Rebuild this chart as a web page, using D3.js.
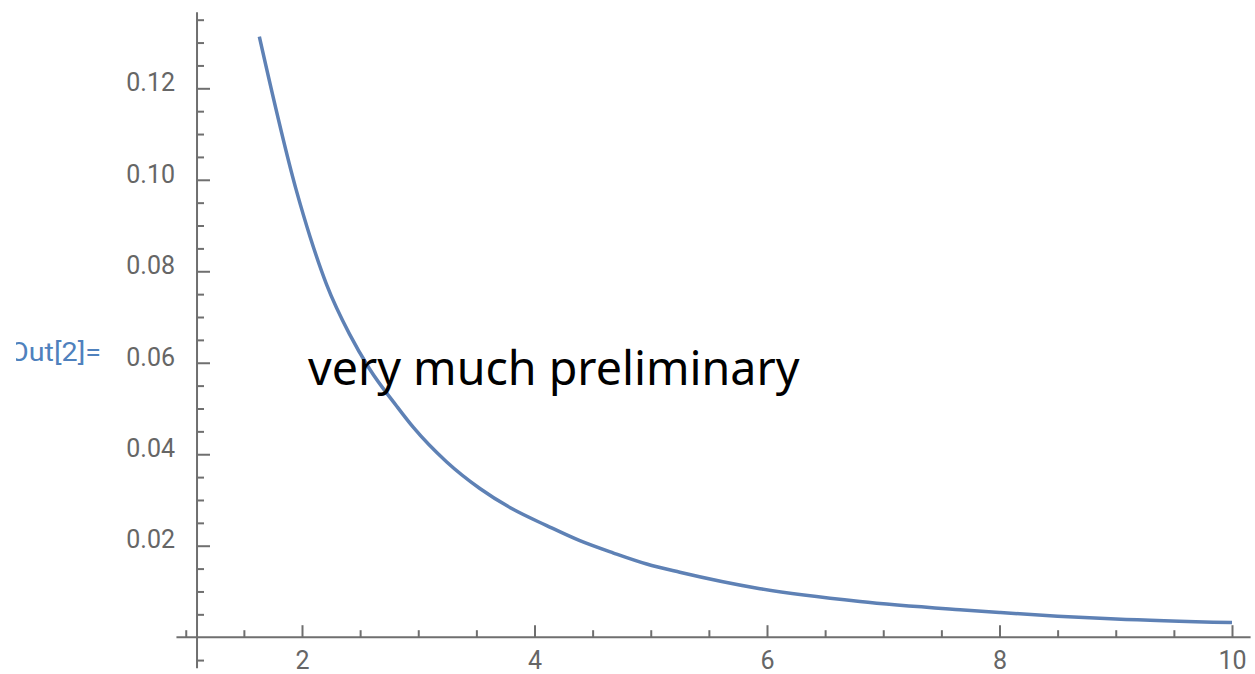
<!DOCTYPE html>
<html>
<head>
<meta charset="utf-8">
<script src="https://cdn.jsdelivr.net/npm/d3@7"></script>
<style>
  html, body { margin: 0; padding: 0; background: #fff; }
  svg { display: block; }
</style>
</head>
<body>
<div id="chart"></div>
<script>
// data
const curveX = [1.633, 1.95, 2.07, 2.21, 2.41, 2.58, 2.815, 2.96, 3.245, 3.53, 3.82,
  4.105, 4.39, 4.68, 4.965, 5.25, 5.94, 6.8, 7.66, 8.0, 8.5, 9.0, 10.0];
const curveY = [0.1313, 0.0978, 0.0875, 0.0772, 0.0662, 0.0587, 0.0505, 0.0458, 0.0383, 0.0325, 0.0279,
  0.0244, 0.0211, 0.0184, 0.016, 0.0142, 0.0106, 0.0078, 0.006, 0.0054, 0.0046, 0.004, 0.0032];

const xMajorTicks = [2, 4, 6, 8, 10];
const xMinorTicks = [1, 1.5, 2.5, 3, 3.5, 4.5, 5, 5.5, 6.5, 7, 7.5, 8.5, 9, 9.5];
const yMajorTicks = [0.02, 0.04, 0.06, 0.08, 0.10, 0.12];
const yTickLabels = ['0.02', '0.04', '0.06', '0.08', '0.10', '0.12'];
const yMinorTicks = [-0.005, 0.005, 0.01, 0.015, 0.025, 0.03, 0.035, 0.045, 0.05, 0.055,
  0.065, 0.07, 0.075, 0.085, 0.09, 0.095, 0.105, 0.11, 0.115, 0.125, 0.13, 0.135];

const outLabel = 'Out[2]=';
const noteText = 'very much preliminary';

const WIDTH = 1255;
const HEIGHT = 674;
const AXIS_COLOR = '#6f6f6f';
const LABEL_COLOR = '#666666';

const svg = d3.select('#chart')
  .append('svg')
  .attr('width', WIDTH)
  .attr('height', HEIGHT);

// scales
const x = d3.scaleLinear().domain([2, 10]).range([302, 1232]);
const y = d3.scaleLinear().domain([0, 0.12]).range([637.2, 88.3]);

const originX = x(1.097);
const originY = y(0);

// axis lines
svg.append('line')
  .attr('x1', x(0.92)).attr('x2', x(10.16))
  .attr('y1', originY).attr('y2', originY)
  .attr('stroke', AXIS_COLOR).attr('stroke-width', 2);
svg.append('line')
  .attr('x1', originX).attr('x2', originX)
  .attr('y1', y(0.1366)).attr('y2', y(-0.0068))
  .attr('stroke', AXIS_COLOR).attr('stroke-width', 2);

// x axis (ticks point up, labels below)
const gxMinor = svg.append('g')
  .attr('transform', `translate(0,${originY})`)
  .call(d3.axisBottom(x).tickValues(xMinorTicks).tickSize(-7).tickFormat(''));
const gx = svg.append('g')
  .attr('transform', `translate(0,${originY})`)
  .call(d3.axisBottom(x).tickValues(xMajorTicks).tickSize(-12).tickPadding(14)
    .tickFormat(d3.format('d')));

// y axis (ticks point right, labels left)
const gyMinor = svg.append('g')
  .attr('transform', `translate(${originX},0)`)
  .call(d3.axisLeft(y).tickValues(yMinorTicks).tickSize(-7).tickFormat(''));
const gy = svg.append('g')
  .attr('transform', `translate(${originX},0)`)
  .call(d3.axisLeft(y).tickValues(yMajorTicks).tickSize(-13).tickPadding(22)
    .tickFormat((d, i) => yTickLabels[i]));

[gxMinor, gx, gyMinor, gy].forEach((g) => {
  g.select('.domain').remove();
  g.selectAll('.tick line').attr('stroke', AXIS_COLOR).attr('stroke-width', 2);
  g.selectAll('.tick text')
    .attr('fill', LABEL_COLOR)
    .style('font-family', 'Roboto, sans-serif')
    .style('font-size', '25px');
});
gy.selectAll('.tick text').attr('dy', '0.09em');

// curve
const points = curveX.map((d, i) => [d, curveY[i]]);
const line = d3.line()
  .x((d) => x(d[0]))
  .y((d) => y(d[1]))
  .curve(d3.curveMonotoneX);
svg.append('path')
  .datum(points)
  .attr('d', line)
  .attr('fill', 'none')
  .attr('stroke', '#5e81b5')
  .attr('stroke-width', 3.5)
  .attr('stroke-linecap', 'butt');

// "Out[2]=" label, clipped on the left like the screenshot
svg.append('clipPath')
  .attr('id', 'outClip')
  .append('rect')
  .attr('x', 16).attr('y', 0).attr('width', 200).attr('height', HEIGHT);
svg.append('text')
  .attr('clip-path', 'url(#outClip)')
  .attr('x', 101)
  .attr('y', 361)
  .attr('text-anchor', 'end')
  .attr('fill', '#4f81bd')
  .attr('textLength', 92)
  .attr('lengthAdjust', 'spacingAndGlyphs')
  .style('font-family', 'Roboto, sans-serif')
  .style('font-size', '25px')
  .text(outLabel);

// overlay note
svg.append('text')
  .attr('x', 308)
  .attr('y', 385)
  .attr('fill', '#000')
  .style('font-family', '"Noto Sans", sans-serif')
  .style('font-size', '46.6px')
  .text(noteText);
</script>
</body>
</html>
